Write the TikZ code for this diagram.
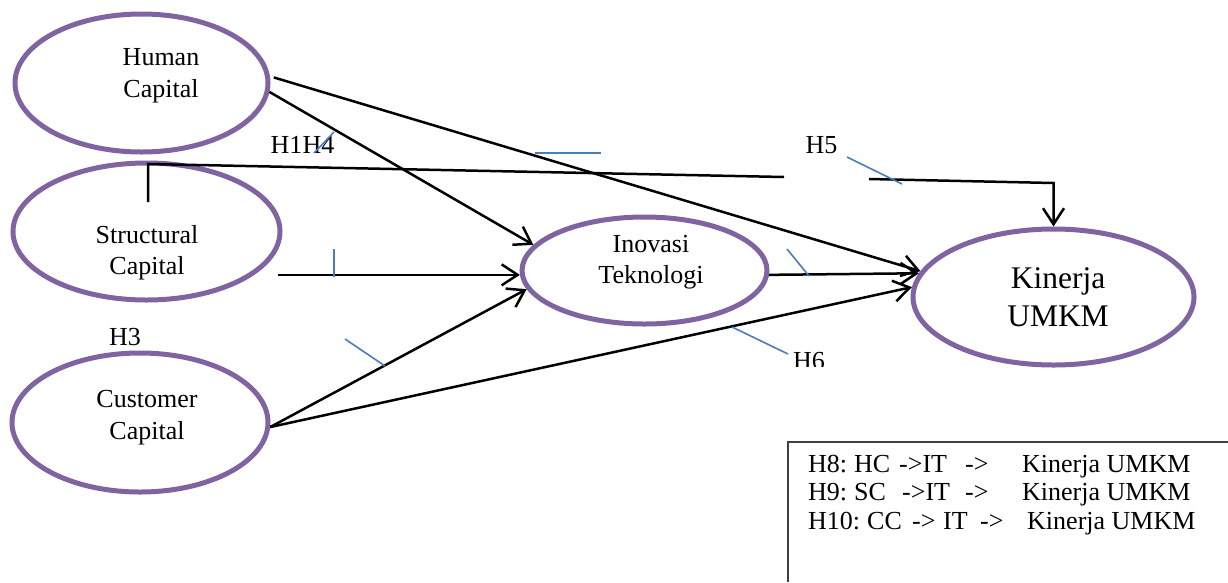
\documentclass[tikz,border=0pt]{standalone}
\usepackage{fontspec}
\setmainfont{Liberation Serif}
\usetikzlibrary{shapes.geometric,arrows.meta}
\definecolor{pur}{HTML}{8064A2}
\definecolor{blu}{HTML}{4A7EBB}
\begin{document}
\begin{tikzpicture}[x=1pt,y=-1pt,
  ell/.style={ellipse,draw=pur,line width=5pt,inner sep=0pt},
  lbl/.style={anchor=base,inner sep=0pt,font=\fontsize{26}{31}\selectfont},
  big/.style={anchor=base,inner sep=0pt,font=\fontsize{31.5}{38}\selectfont},
  boxtxt/.style={anchor=base west,inner sep=0pt,font=\fontsize{26}{31}\selectfont},
  conn/.style={line width=2.5pt,draw=black},
  arr/.style={conn,-{Straight Barb[length=16pt,width=21pt,line width=2.5pt]}},
  blueline/.style={draw=blu,line width=1.6pt}]
\useasboundingbox (0,0) rectangle (1228,582);

% ellipses
\node[ell,minimum width=253pt,minimum height=138pt] (hc) at (141.5,83) {};
\node[ell,minimum width=267pt,minimum height=137pt] (sc) at (146.5,231.5) {};
\node[ell,minimum width=256pt,minimum height=139pt] (cc) at (140,422.5) {};
\node[ell,minimum width=245pt,minimum height=107pt] (it) at (644.5,270.5) {};
\node[ell,minimum width=281pt,minimum height=136pt] (k) at (1053.5,297) {};

% ellipse texts
\node[lbl] (hc1) at (161,65) {Human};
\node[lbl] (hc2) at (161,97) {Capital};
\node[lbl] (sc1) at (147,243) {Structural};
\node[lbl] (sc2) at (147,274) {Capital};
\node[lbl] (cc1) at (147,407) {Customer};
\node[lbl] (cc2) at (147,439) {Capital};
\node[lbl] (it1) at (651,252) {Inovasi};
\node[lbl] (it2) at (651,283) {Teknologi};
\node[big] (k1) at (1058,288) {Kinerja};
\node[big] (k2) at (1058,326) {UMKM};

% labels
\node[lbl] (h14) at (302.5,153) {H1H4};
\node[lbl] (h5) at (821.5,153) {H5};
\node[lbl] (h3) at (125,345) {H3};
\begin{scope}
  \clip (770,330) rectangle (850,366);
  \node[lbl] (h6) at (809,369) {H6};
\end{scope}

% coordinates for free ends
\coordinate (scs) at (278,276);
\coordinate (sca) at (148,202);
\coordinate (scb) at (148,164);
\coordinate (scc) at (784,177);
\coordinate (scd) at (869,179);
\coordinate (sce) at (1053.5,183);

% connectors
\draw[arr] (hc.-4) -- (it.167);
\draw[arr,shorten <=4pt] (hc.3) -- (k.169.5);
\draw[arr] (it.182 -| scs) -- (it.182);
\draw[arr] (cc.-2.5) -- (it.189);
\draw[arr] (cc.-2.5) -- (k.176);
\draw[arr] (it.-2) -- (k.170.5);
\draw[conn] (sca) -- (scb) -- (scc);
\draw[arr] (scd) -- (sce) -- (k.north);

% blue marks
\draw[blueline] (314,153) -- (334,132);
\draw[blueline] (535,153) -- (601,153);
\draw[blueline] (334,249) -- (334,277);
\draw[blueline] (345,339) -- (385,366);
\draw[blueline] (847,157) -- (902,184);
\draw[blueline] (787,249) -- (809,276);
\draw[blueline] (732,327) -- (788,354);

% box
\draw[line width=1.2pt,draw=black!75] (788,582) -- (788,442) -- (1228,442);
\node[boxtxt] (b1) at (808,472) {\makebox[46pt][l]{H8:}\makebox[45pt][l]{HC}\makebox[66pt][l]{->IT}\makebox[57pt][l]{->}Kinerja UMKM};
\node[boxtxt] (b2) at (808,500) {\makebox[46pt][l]{H9:}\makebox[48pt][l]{SC}\makebox[63pt][l]{->IT}\makebox[57pt][l]{->}Kinerja UMKM};
\node[boxtxt] (b3) at (808,529) {\makebox[59pt][l]{H10:}\makebox[45pt][l]{CC}\makebox[31pt][l]{->}\makebox[37pt][l]{IT}\makebox[47pt][l]{->}Kinerja UMKM};
\end{tikzpicture}
\end{document}
